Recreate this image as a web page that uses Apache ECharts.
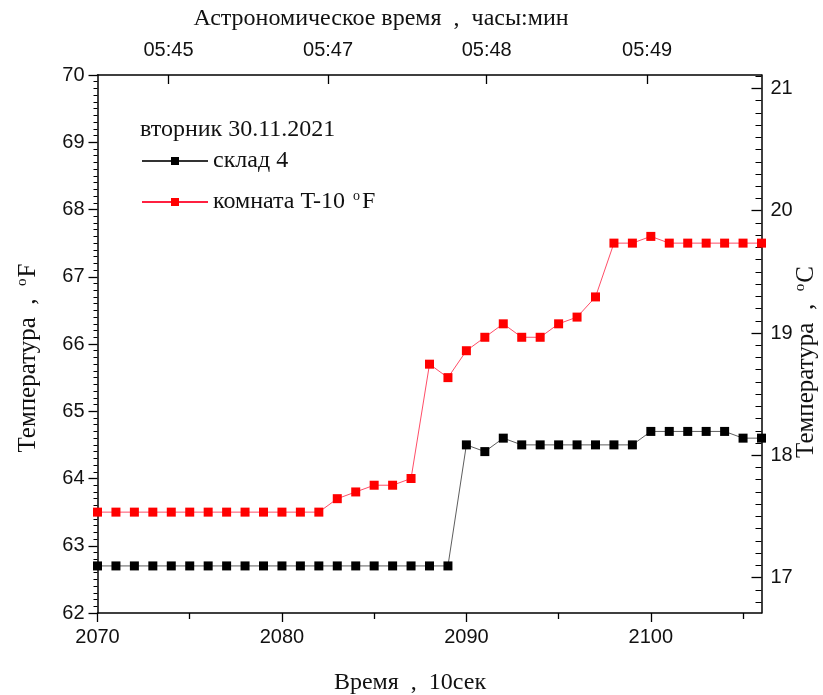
<!DOCTYPE html>
<html>
<head>
<meta charset="utf-8">
<script src="https://cdn.jsdelivr.net/npm/echarts@6/dist/echarts.min.js"></script>
<style>
  html, body { margin: 0; padding: 0; background: #ffffff; }
  #chart { width: 823px; height: 695px; }
</style>
</head>
<body>
<div id="chart"></div>
<script>
// Time steps (units of 10 s)
const timeSteps = [
  2070, 2071, 2072, 2073, 2074, 2075, 2076, 2077, 2078, 2079,
  2080, 2081, 2082, 2083, 2084, 2085, 2086, 2087, 2088, 2089,
  2090, 2091, 2092, 2093, 2094, 2095, 2096, 2097, 2098, 2099,
  2100, 2101, 2102, 2103, 2104, 2105, 2106
];

// Warehouse 4 temperature, °F
const warehouse = [
  62.7, 62.7, 62.7, 62.7, 62.7, 62.7, 62.7, 62.7, 62.7, 62.7,
  62.7, 62.7, 62.7, 62.7, 62.7, 62.7, 62.7, 62.7, 62.7, 62.7,
  64.5, 64.4, 64.6, 64.5, 64.5, 64.5, 64.5, 64.5, 64.5, 64.5,
  64.7, 64.7, 64.7, 64.7, 64.7, 64.6, 64.6
];

// Room temperature minus 10, °F
const room = [
  63.5, 63.5, 63.5, 63.5, 63.5, 63.5, 63.5, 63.5, 63.5, 63.5,
  63.5, 63.5, 63.5, 63.7, 63.8, 63.9, 63.9, 64.0, 65.7, 65.5,
  65.9, 66.1, 66.3, 66.1, 66.1, 66.3, 66.4, 66.7, 67.5, 67.5,
  67.6, 67.5, 67.5, 67.5, 67.5, 67.5, 67.5
];

// Axis ticks
const bottomTicks = [2070, 2080, 2090, 2100];
const bottomMinorTicks = [2075, 2085, 2095, 2105];
const clockTickPos = [2073.85, 2082.5, 2091.1, 2099.8];
const clockTickLabels = ['05:45', '05:47', '05:48', '05:49'];
const celsiusTicks = [17, 18, 19, 20, 21];

const SANS = "'Liberation Sans Narrow', 'Liberation Sans', Arial, sans-serif";
const SERIF = "'Liberation Serif', 'Times New Roman', serif";
const INK = '#111111';

const X_MIN = 2070, X_MAX = 2106;
const F_MIN = 62, F_MAX = 70;
const C_MIN = 16.71, C_MAX = 21.11;

// 0.1 °C minor ticks on the right axis
const celsiusMinor = [];
for (let k = Math.ceil(C_MIN * 10); k <= Math.floor(C_MAX * 10); k++) {
  if (k % 10 !== 0) celsiusMinor.push(k / 10);
}

const axisLine = { show: true, lineStyle: { color: '#000', width: 1.5 } };
const tickLine = { color: '#000', width: 1.3 };
const tickFont = { fontFamily: SANS, fontSize: 20, color: INK };

const chart = echarts.init(document.getElementById('chart'));

chart.setOption({
  animation: false,
  backgroundColor: '#ffffff',
  grid: { left: 97.5, right: 61.5, top: 75, bottom: 82, containLabel: false },
  xAxis: [
    {
      type: 'value', position: 'bottom', min: X_MIN, max: X_MAX,
      axisLine: axisLine,
      axisTick: { show: true, customValues: bottomTicks, length: 9, lineStyle: tickLine },
      axisLabel: Object.assign({ customValues: bottomTicks, margin: 14, formatter: v => String(v) }, tickFont),
      splitLine: { show: false }
    },
    {
      type: 'value', position: 'top', min: X_MIN, max: X_MAX,
      axisLine: axisLine,
      axisTick: { show: true, inside: true, customValues: clockTickPos, length: 9, lineStyle: tickLine },
      axisLabel: Object.assign({
        customValues: clockTickPos, margin: 15,
        formatter: function (v) {
          let best = 0;
          for (let i = 1; i < clockTickPos.length; i++) {
            if (Math.abs(clockTickPos[i] - v) < Math.abs(clockTickPos[best] - v)) best = i;
          }
          return clockTickLabels[best];
        }
      }, tickFont),
      splitLine: { show: false }
    },
    {
      type: 'value', position: 'bottom', min: X_MIN, max: X_MAX,
      axisLine: { show: false },
      axisTick: { show: true, customValues: bottomMinorTicks, length: 6, lineStyle: tickLine },
      axisLabel: { show: false },
      splitLine: { show: false }
    }
  ],
  yAxis: [
    {
      type: 'value', position: 'left', min: F_MIN, max: F_MAX, interval: 1,
      axisLine: axisLine,
      axisTick: { show: true, length: 9, lineStyle: tickLine },
      minorTick: { show: true, splitNumber: 10, length: 4, lineStyle: { color: '#000', width: 1 } },
      axisLabel: Object.assign({ margin: 13, formatter: v => String(v) }, tickFont),
      splitLine: { show: false },
      minorSplitLine: { show: false }
    },
    {
      type: 'value', position: 'right', min: C_MIN, max: C_MAX,
      axisLine: axisLine,
      axisTick: { show: true, inside: true, customValues: celsiusTicks, length: 10, lineStyle: tickLine },
      axisLabel: Object.assign({ customValues: celsiusTicks, margin: 9, formatter: v => String(v) }, tickFont),
      splitLine: { show: false }
    },
    {
      type: 'value', position: 'right', min: C_MIN, max: C_MAX,
      axisLine: { show: false },
      axisTick: { show: true, inside: true, customValues: celsiusMinor, length: 6, lineStyle: { color: '#000', width: 1 } },
      axisLabel: { show: false },
      splitLine: { show: false }
    }
  ],
  legend: {
    orient: 'vertical', left: 141, top: 149, padding: 0,
    itemWidth: 66, itemHeight: 10, itemGap: 16,
    data: ['склад 4', 'комната T-10 °F'],
    formatter: function (name) {
      return name === 'комната T-10 °F' ? 'комната T-10 {s|o}F' : name;
    },
    textStyle: {
      fontFamily: SERIF, fontSize: 24, color: INK,
      rich: { s: { fontFamily: SERIF, fontSize: 14, color: INK, verticalAlign: 'top', padding: [0, 2, 12, 2] } }
    }
  },
  graphic: [
    {
      type: 'text', x: 140, y: 130,
      style: { text: 'вторник 30.11.2021', fontFamily: SERIF, fontSize: 24, fill: INK, align: 'left', verticalAlign: 'middle' }
    },
    {
      type: 'text', x: 381, y: 19,
      style: { text: 'Астрономическое время  ,  часы:мин', fontFamily: SERIF, fontSize: 24, fill: INK, align: 'center', verticalAlign: 'middle' }
    },
    {
      type: 'text', x: 410, y: 683,
      style: { text: 'Время  ,  10сек', fontFamily: SERIF, fontSize: 24, fill: INK, align: 'center', verticalAlign: 'middle' }
    },
    {
      type: 'text', x: 28, y: 358, rotation: Math.PI / 2,
      style: {
        text: '{n|Температура  ,  }{s|o}{n|F}', align: 'center', verticalAlign: 'middle',
        rich: {
          n: { fontFamily: SERIF, fontSize: 25, fill: INK },
          s: { fontFamily: SERIF, fontSize: 15, fill: INK, verticalAlign: 'top', padding: [0, 1, 12, 0] }
        }
      }
    },
    {
      type: 'text', x: 806, y: 362, rotation: Math.PI / 2,
      style: {
        text: '{n|Температура  ,  }{s|o}{n|C}', align: 'center', verticalAlign: 'middle',
        rich: {
          n: { fontFamily: SERIF, fontSize: 25, fill: INK },
          s: { fontFamily: SERIF, fontSize: 15, fill: INK, verticalAlign: 'top', padding: [0, 1, 12, 0] }
        }
      }
    }
  ],
  series: [
    {
      name: 'склад 4', type: 'line', xAxisIndex: 0, yAxisIndex: 0,
      data: timeSteps.map((t, i) => [t, warehouse[i]]),
      symbol: 'rect', symbolSize: 9,
      itemStyle: { color: '#000000' },
      lineStyle: { color: '#333333', width: 0.8 },
      clip: false
    },
    {
      name: 'комната T-10 °F', type: 'line', xAxisIndex: 0, yAxisIndex: 0,
      data: timeSteps.map((t, i) => [t, room[i]]),
      symbol: 'rect', symbolSize: 9,
      itemStyle: { color: '#ff0000' },
      lineStyle: { color: '#ff2040', width: 0.8 },
      clip: false
    }
  ]
});
</script>
</body>
</html>
